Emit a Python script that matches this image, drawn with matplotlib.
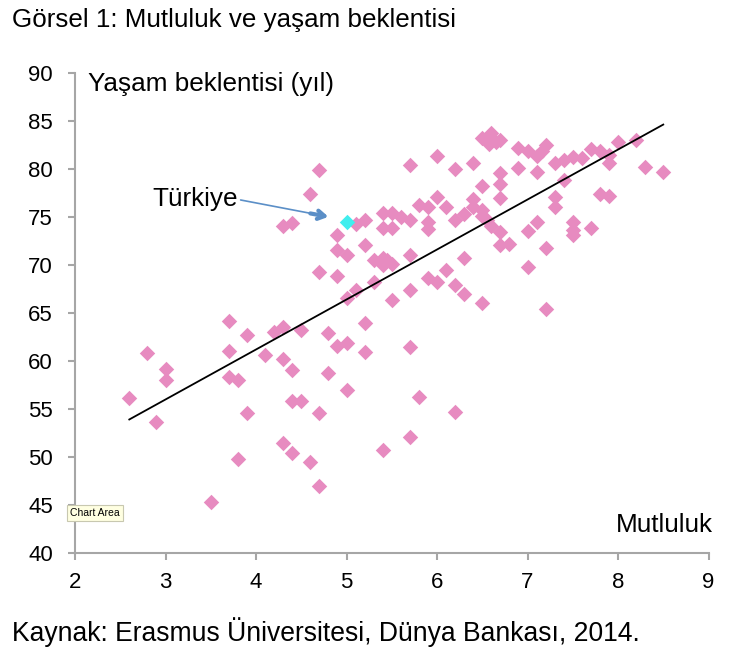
import matplotlib
matplotlib.use("Agg")
import matplotlib.pyplot as plt

plt.rcParams['font.family'] = ['Liberation Sans', 'DejaVu Sans']

# Data: happiness (Mutluluk) vs life expectancy (Yaşam beklentisi)
happiness = [2.6, 2.8, 2.9, 3.0, 3.0, 3.5, 3.7, 3.7, 3.7, 3.8, 3.8, 3.9, 3.9, 4.1, 4.2,
             4.3, 4.3, 4.3, 4.3, 4.4, 4.4, 4.4, 4.4, 4.5, 4.5, 4.6, 4.6, 4.7, 4.7, 4.7,
             4.7, 4.8, 4.8, 4.9, 4.9, 4.9, 4.9, 5.0, 5.0, 5.0, 5.0, 5.1, 5.1, 5.2, 5.2,
             5.2, 5.2, 5.3, 5.3, 5.4, 5.4, 5.4, 5.4, 5.4, 5.45, 5.5, 5.5, 5.5, 5.5, 5.6,
             5.7, 5.7, 5.7, 5.7, 5.7, 5.7, 5.8, 5.8, 5.9, 5.9, 5.9, 5.9, 6.0, 6.0, 6.0,
             6.1, 6.1, 6.2, 6.2, 6.2, 6.2, 6.3, 6.3, 6.3, 6.4, 6.4, 6.4, 6.5, 6.5, 6.5,
             6.5, 6.5, 6.55, 6.6, 6.58, 6.6, 6.65, 6.7, 6.7, 6.7, 6.7, 6.7, 6.7, 6.8,
             6.9, 6.9, 7.0, 7.0, 7.0, 7.1, 7.1, 7.1, 7.16, 7.2, 7.2, 7.2, 7.3, 7.3, 7.3,
             7.4, 7.4, 7.5, 7.5, 7.5, 7.5, 7.6, 7.7, 7.7, 7.8, 7.8, 7.9, 7.9, 7.9, 8.0,
             8.2, 8.3, 8.5]
life_exp = [56.1, 60.8, 53.6, 59.2, 58.0, 45.3, 64.2, 61.0, 58.3, 58.0, 49.8, 62.7, 54.6, 60.6, 63.0,
            63.5, 60.2, 51.5, 74.0, 74.4, 59.0, 55.8, 50.4, 63.2, 55.8, 77.4, 49.5, 79.9, 69.3, 54.6,
            47.0, 62.9, 58.7, 73.1, 71.5, 68.8, 61.5, 71.0, 66.5, 61.9, 57.0, 74.2, 67.4, 74.7, 72.1,
            63.9, 60.9, 70.5, 68.2, 75.4, 73.8, 70.7, 70.0, 50.7, 70.5, 75.4, 73.8, 70.1, 66.3, 75.0,
            80.4, 74.7, 71.0, 67.4, 61.4, 52.1, 76.2, 56.2, 76.0, 74.5, 73.7, 68.6, 81.3, 77.1, 68.2,
            76.0, 69.5, 80.0, 74.7, 67.9, 54.7, 75.3, 70.7, 67.0, 80.6, 76.8, 76.0, 83.2, 78.2, 75.7,
            75.1, 66.0, 74.7, 83.7, 82.6, 74.0, 82.8, 83.0, 79.6, 78.4, 77.0, 73.4, 72.1, 72.2,
            82.2, 80.1, 81.9, 73.5, 69.8, 81.3, 79.7, 74.5, 81.9, 82.5, 71.7, 65.4, 80.6, 77.1, 76.0,
            80.9, 78.8, 81.2, 74.5, 73.6, 73.1, 81.1, 82.1, 73.8, 81.8, 77.4, 81.4, 80.6, 77.2, 82.8,
            83.0, 80.2, 79.7]

turkey_x = [5.0]
turkey_y = [74.5]

trend_x = [2.6, 8.5]
trend_y = [53.9, 84.6]

x_ticks = [2, 3, 4, 5, 6, 7, 8, 9]
y_ticks = [40, 45, 50, 55, 60, 65, 70, 75, 80, 85, 90]

W, H = 753, 652
fig = plt.figure(figsize=(W / 100, H / 100), dpi=100)
ax = fig.add_axes([75 / W, 1 - 553 / H, 633.5 / W, 480.3 / H])

ax.scatter(happiness, life_exp, marker='D', s=62, color='#E78BC0', linewidths=0, zorder=3)
ax.scatter(turkey_x, turkey_y, marker='D', s=62, color='#40EEEE', linewidths=0, zorder=4)
ax.plot(trend_x, trend_y, color='black', lw=1.3, zorder=5)

ax.set_xlim(2, 9)
ax.set_ylim(40, 90)
ax.set_xticks(x_ticks)
ax.set_yticks(y_ticks)
ax.set_xticklabels([str(v) for v in x_ticks])
ax.set_yticklabels([str(v) for v in y_ticks])

for s in ['top', 'right']:
    ax.spines[s].set_visible(False)
for s in ['left', 'bottom']:
    ax.spines[s].set_color('#A6A6A6')
    ax.spines[s].set_linewidth(1.5)
ax.tick_params(axis='both', direction='out', length=5, width=1.5, color='#A6A6A6',
               labelsize=16, labelcolor='black')
ax.tick_params(axis='x', pad=9)
ax.tick_params(axis='y', pad=11)

ax.text(0.02, 0.976, 'Yaşam beklentisi (yıl)', transform=ax.transAxes,
        fontsize=18.8, ha='left', va='center')
ax.text(1.007, 0.058, 'Mutluluk', transform=ax.transAxes,
        fontsize=18.8, ha='right', va='center')

ax.text(2.85, 76.8, 'Türkiye', fontsize=18.8, ha='left', va='center')
ax.annotate('', xy=(4.72, 75.15), xytext=(3.83, 76.75),
            arrowprops=dict(arrowstyle='-', color='#5B8FC7', lw=1.2, shrinkA=0, shrinkB=0))
ax.annotate('', xy=(4.80, 75.0), xytext=(4.60, 75.35),
            arrowprops=dict(arrowstyle='->,head_length=0.5,head_width=0.3', color='#5B8FC7',
                            lw=3, shrinkA=0, shrinkB=0))

fig.text(12 / W, 1 - 20 / H, 'Görsel 1: Mutluluk ve yaşam beklentisi',
         fontsize=18.7, ha='left', va='center')
fig.text(12 / W, 1 - 632 / H, 'Kaynak: Erasmus Üniversitesi, Dünya Bankası, 2014.',
         fontsize=19.1, ha='left', va='center')
fig.text(70 / W, 1 - 513 / H, 'Chart Area', fontsize=7.5, ha='left', va='center',
         bbox=dict(boxstyle='square,pad=0.3', facecolor='#FFFFE1', edgecolor='#C8C8B0', lw=0.8))

fig.savefig('out.png', dpi=100)
